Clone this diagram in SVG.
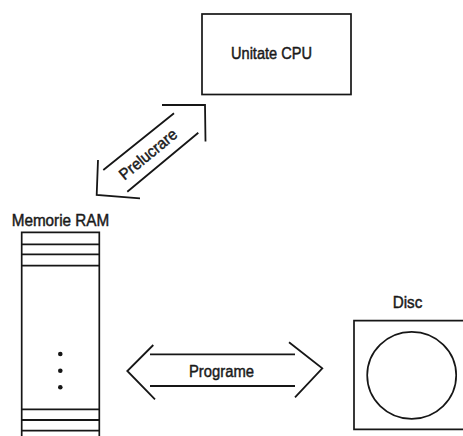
<svg xmlns="http://www.w3.org/2000/svg" width="463" height="436" viewBox="0 0 463 436">
  <style>
    .box { fill: none; stroke: #161616; stroke-width: 1.7; }
    .ln { fill: none; stroke: #161616; stroke-width: 1.8; stroke-linecap: butt; stroke-linejoin: miter; }
    .lbl { font-family: "Liberation Sans", Arial, sans-serif; font-size: 16px; fill: #1a1a1a; stroke: #1a1a1a; stroke-width: 0.45; }
    .dot { fill: #161616; }
  </style>
  <rect x="0" y="0" width="463" height="436" fill="#ffffff"/>

  <!-- CPU unit -->
  <g id="cpu">
    <rect class="box" x="202" y="14" width="149" height="80.5"/>
    <text class="lbl" x="231" y="59.3" font-size="17" textLength="81" lengthAdjust="spacingAndGlyphs">Unitate CPU</text>
  </g>

  <!-- RAM memory column -->
  <g id="ram">
    <text class="lbl" x="11.7" y="226" font-size="17" textLength="97.5" lengthAdjust="spacingAndGlyphs">Memorie RAM</text>
    <path class="box" d="M21.7 440 V232.3 H99.3 V440"/>
    <path class="ln" d="M21.7 244.3 H99.3 M21.7 254.3 H99.3 M21.7 265.7 H99.3 M21.7 409.3 H99.3 M21.7 420 H99.3 M21.7 430.7 H99.3"/>
    <circle class="dot" cx="60.3" cy="354" r="2.3"/>
    <circle class="dot" cx="60.3" cy="370.7" r="2.3"/>
    <circle class="dot" cx="60.3" cy="387.3" r="2.3"/>
  </g>

  <!-- Disk -->
  <g id="disc">
    <text class="lbl" x="392.7" y="308.3" textLength="29.6" lengthAdjust="spacingAndGlyphs">Disc</text>
    <path class="box" d="M470 320.7 H354 V429.3 H470"/>
    <ellipse class="box" cx="411.7" cy="375.3" rx="44.5" ry="43.5"/>
  </g>

  <!-- Transfer arrows -->
  <g id="connectors">
    <g id="prelucrare">
      <path class="ln" d="M103.3 170 L174 113.3 M127.3 191.7 L198.3 132.7"/>
      <path class="ln" d="M98 160 L96.7 195 L140 198.3"/>
      <path class="ln" d="M162 105 L205 105 L205.5 141.5"/>
      <text class="lbl" x="0" y="0" text-anchor="middle" textLength="70" lengthAdjust="spacingAndGlyphs" transform="translate(151.5 158.5) rotate(-39.5)">Prelucrare</text>
    </g>
    <g id="programe">
      <path class="ln" d="M150 354.3 H295 M150 386 H295"/>
      <path class="ln" d="M153.3 345 L127.3 371 L155 399.3"/>
      <path class="ln" d="M289 342.3 L322.3 368.3 L295 397.3"/>
      <text class="lbl" x="189" y="376.7" textLength="65" lengthAdjust="spacingAndGlyphs">Programe</text>
    </g>
  </g>
</svg>
